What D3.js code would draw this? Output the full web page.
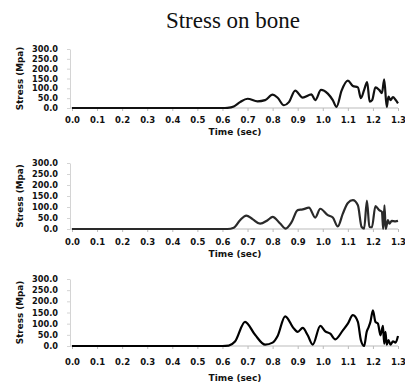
<!DOCTYPE html>
<html>
<head>
<meta charset="utf-8">
<script src="https://cdn.jsdelivr.net/npm/d3@7"></script>
<style>
  body { margin: 0; background: #fff; }
  svg { display: block; }
  .tick text { font-family: "DejaVu Sans", Verdana, sans-serif; font-weight: bold; fill: #111; }
</style>
</head>
<body>
<div id="chart"></div>
<script>
const title = 'Stress on bone';
const xTicks = [0, 0.1, 0.2, 0.3, 0.4, 0.5, 0.6, 0.7, 0.8, 0.9, 1.0, 1.1, 1.2, 1.3];
const yTicks = [0, 50, 100, 150, 200, 250, 300];

// panel 1
const time1 = [0, 0.3, 0.6, 0.62, 0.645, 0.67, 0.7, 0.74, 0.77, 0.8, 0.82, 0.845, 0.865, 0.89, 0.92, 0.955, 0.97,
  0.993, 1.02, 1.04, 1.055, 1.075, 1.1, 1.12, 1.14, 1.152, 1.165, 1.177, 1.187, 1.197, 1.21, 1.225, 1.236,
  1.245, 1.255, 1.262, 1.27, 1.28, 1.29, 1.3];
const stress1 = [0, 0, 0, 1, 8, 30, 47, 34, 40, 68, 52, 14, 30, 88, 53, 69, 40,
  92, 73, 40, 6, 88, 139, 112, 105, 50, 92, 132, 32, 40, 105, 92, 76,
  146, 5, 58, 40, 55, 42, 24];

// panel 2
const time2 = [0, 0.3, 0.62, 0.645, 0.67, 0.695, 0.72, 0.75, 0.78, 0.8, 0.83, 0.852, 0.875, 0.9, 0.92, 0.945, 0.97,
  0.99, 1.02, 1.04, 1.06, 1.08, 1.1, 1.12, 1.14, 1.155, 1.165, 1.176, 1.186, 1.196, 1.21, 1.225, 1.236,
  1.241, 1.246, 1.251, 1.26, 1.266, 1.275, 1.29, 1.3];
const stress2 = [0, 0, 0, 6, 40, 61, 45, 24, 40, 55, 25, 2, 30, 86, 89, 97, 52,
  92, 63, 52, 12, 70, 118, 131, 108, 9, 2, 129, 9, 8, 104, 86, 78,
  0, 108, 0, 40, 24, 37, 35, 37];

// panel 3
const time3 = [0, 0.3, 0.6, 0.625, 0.65, 0.69, 0.73, 0.77, 0.8, 0.82, 0.85, 0.885, 0.9, 0.92, 0.94, 0.96,
  0.99, 1.01, 1.03, 1.05, 1.08, 1.1, 1.12, 1.14, 1.152, 1.165, 1.175, 1.183, 1.19, 1.2, 1.21, 1.22, 1.23,
  1.24, 1.245, 1.25, 1.255, 1.262, 1.27, 1.28, 1.29, 1.3];
const stress3 = [0, 0, 0, 2, 20, 108, 50, 6, 15, 45, 133, 78, 63, 81, 48, 6,
  90, 66, 55, 30, 70, 100, 138, 108, 26, 0, 63, 85, 108, 160, 108, 100, 48,
  90, 10, 63, 6, 26, 6, 21, 15, 45];

const panels = [
  { t: time1, s: stress1, top: 49, bottom: 108, labelY: 121, titleY: 135, color: '#111' },
  { t: time2, s: stress2, top: 163, bottom: 229, labelY: 243, titleY: 257, color: '#2a2a2a' },
  { t: time3, s: stress3, top: 279, bottom: 346, labelY: 363, titleY: 381, color: '#000' }
];

const width = 405, height = 385;
const svg = d3.select('#chart').append('svg')
  .attr('width', width)
  .attr('height', height);

svg.append('text')
  .attr('x', 233)
  .attr('y', 28)
  .attr('text-anchor', 'middle')
  .attr('font-family', '"Liberation Serif", "Times New Roman", serif')
  .attr('font-size', 23)
  .attr('fill', '#111')
  .text(title);

const x = d3.scaleLinear().domain([0, 1.3]).range([72, 398]);

panels.forEach(p => {
  const y = d3.scaleLinear().domain([0, 300]).range([p.bottom, p.top]);
  const g = svg.append('g');

  // x axis
  const xAxis = g.append('g')
    .attr('transform', `translate(0,${p.bottom})`)
    .call(d3.axisBottom(x).tickValues(xTicks).tickFormat(d3.format('.1f')).tickSizeInner(3).tickSizeOuter(0).tickPadding(p.labelY - p.bottom - 7));
  xAxis.select('.domain').attr('stroke', '#bbb').attr('d', `M70,0H398`);
  xAxis.selectAll('.tick line').attr('stroke', '#bbb');
  xAxis.selectAll('.tick text').attr('font-size', 8.5);

  // y axis
  const yAxis = g.append('g')
    .attr('transform', 'translate(70,0)')
    .call(d3.axisLeft(y).tickValues(yTicks).tickFormat(d3.format('.1f')).tickSizeInner(3).tickSizeOuter(0).tickPadding(9));
  yAxis.select('.domain').attr('stroke', '#d4d4d4');
  yAxis.selectAll('.tick line').attr('stroke', '#d4d4d4');
  yAxis.selectAll('.tick text').attr('font-size', 8.2);

  // axis titles
  g.append('text')
    .attr('x', 235)
    .attr('y', p.titleY)
    .attr('text-anchor', 'middle')
    .attr('font-family', '"DejaVu Sans", Verdana, sans-serif')
    .attr('font-weight', 'bold')
    .attr('font-size', 9)
    .attr('fill', '#111')
    .text('Time (sec)');

  g.append('text')
    .attr('transform', `translate(23,${(p.top + p.bottom) / 2}) rotate(-90)`)
    .attr('text-anchor', 'middle')
    .attr('font-family', '"DejaVu Sans", Verdana, sans-serif')
    .attr('font-weight', 'bold')
    .attr('font-size', 8.8)
    .attr('fill', '#111')
    .text('Stress (Mpa)');

  const pts = p.t.map((t, i) => [t, p.s[i]]);
  const line = d3.line()
    .x(d => x(d[0]))
    .y(d => y(d[1]))
    .curve(d3.curveMonotoneX);

  g.append('path')
    .datum(pts)
    .attr('d', line)
    .attr('fill', 'none')
    .attr('stroke', p.color)
    .attr('stroke-width', 2.2)
    .attr('stroke-linejoin', 'round');
});
</script>
</body>
</html>
